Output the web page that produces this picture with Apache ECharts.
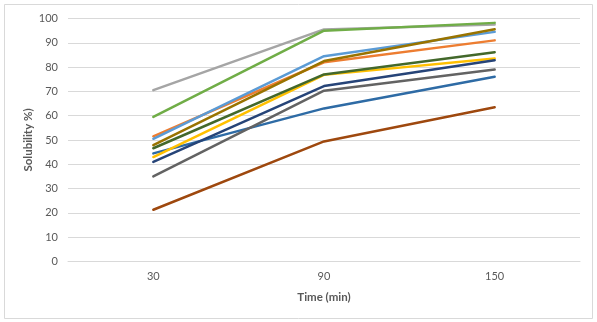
<!DOCTYPE html>
<html>
<head>
<meta charset="utf-8">
<script src="https://cdn.jsdelivr.net/npm/echarts@6/dist/echarts.min.js"></script>
<style>
  html, body { margin: 0; padding: 0; background: #ffffff; }
  #chart { width: 597px; height: 322px; }
</style>
</head>
<body>
<div id="chart"></div>
<script>
// Time points (min)
const times = ['30', '90', '150'];

// Solubility (%) of each formulation at each time point
const seriesMedBlue   = [44.5, 63.0, 76.0];
const seriesOrange    = [51.5, 82.0, 91.0];
const seriesGray      = [70.5, 95.5, 97.5];
const seriesYellow    = [43.0, 76.8, 83.5];
const seriesLightBlue = [50.5, 84.5, 94.5];
const seriesGreen     = [59.5, 95.0, 98.2];
const seriesDarkBlue  = [41.0, 72.2, 82.8];
const seriesDarkOrange= [21.3, 49.4, 63.5];
const seriesDarkGray  = [35.0, 70.3, 79.0];
const seriesDarkYellow= [47.9, 82.5, 95.6];
const seriesDarkGreen = [46.6, 77.0, 86.1];

const yTicks = { min: 0, max: 100, interval: 10 };

const lines = [
  { data: seriesMedBlue,    color: '#2E6BA5' },
  { data: seriesOrange,     color: '#ED7D31' },
  { data: seriesGray,       color: '#A5A5A5' },
  { data: seriesYellow,     color: '#FFC000' },
  { data: seriesLightBlue,  color: '#5B9BD5' },
  { data: seriesGreen,      color: '#70AD47' },
  { data: seriesDarkBlue,   color: '#264478' },
  { data: seriesDarkOrange, color: '#9E480E' },
  { data: seriesDarkGray,   color: '#636363' },
  { data: seriesDarkYellow, color: '#997300' },
  { data: seriesDarkGreen,  color: '#43682B' }
];

const FONT = 'Lato, "Open Sans", sans-serif';
const TEXT = '#595959';

const chart = echarts.init(document.getElementById('chart'), null, { renderer: 'canvas' });
chart.setOption({
  animation: false,
  backgroundColor: '#ffffff',
  graphic: [{
    type: 'rect',
    shape: { x: 4.5, y: 4.5, width: 588, height: 314 },
    style: { fill: 'none', stroke: '#d9d9d9', lineWidth: 1 },
    silent: true
  }],
  grid: { left: 68, right: 17, top: 18.5, bottom: 60.5 },
  xAxis: {
    type: 'category',
    data: times,
    boundaryGap: true,
    name: 'Time (min)',
    nameLocation: 'middle',
    nameGap: 30,
    nameMoveOverlap: false,
    nameTextStyle: { color: TEXT, fontFamily: FONT, fontSize: 11.5, fontWeight: 'bold' },
    axisLine: { show: true, lineStyle: { color: '#d9d9d9', width: 1 } },
    axisTick: { show: false },
    axisLabel: { color: TEXT, fontFamily: FONT, fontSize: 11, margin: 9 },
    splitLine: { show: false }
  },
  yAxis: {
    type: 'value',
    min: yTicks.min,
    max: yTicks.max,
    interval: yTicks.interval,
    name: 'Solubility %)',
    nameLocation: 'middle',
    nameGap: 34,
    nameMoveOverlap: false,
    nameTextStyle: { color: TEXT, fontFamily: FONT, fontSize: 11.5, fontWeight: 'bold' },
    axisLine: { show: false },
    axisTick: { show: false },
    axisLabel: { color: TEXT, fontFamily: FONT, fontSize: 11, margin: 10 },
    splitLine: { show: true, lineStyle: { color: '#d9d9d9', width: 1 } }
  },
  series: lines.map(l => ({
    type: 'line',
    data: l.data,
    symbol: 'none',
    lineStyle: { color: l.color, width: 2.5, cap: 'round', join: 'round' },
    itemStyle: { color: l.color }
  }))
});
</script>
</body>
</html>
